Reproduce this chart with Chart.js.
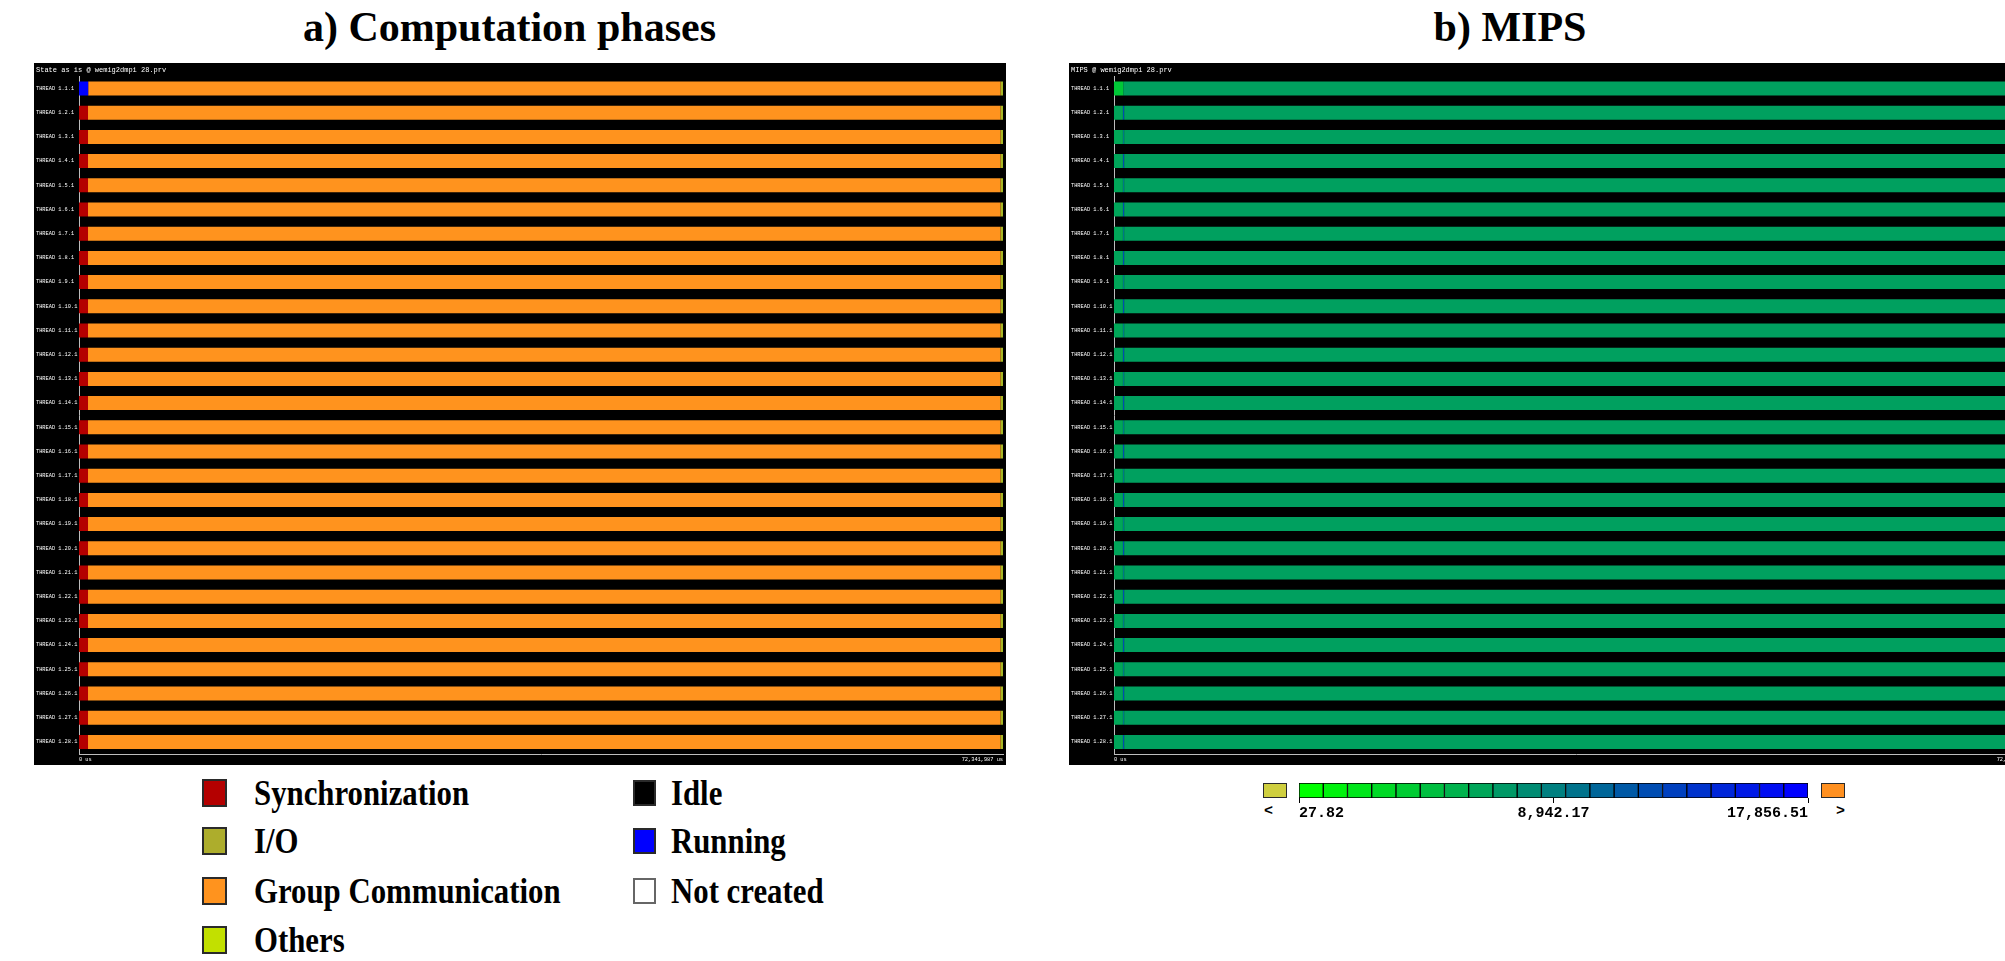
<!DOCTYPE html>
<html>
<head>
<meta charset="utf-8">
<script src="https://cdn.jsdelivr.net/npm/chart.js@4.4.1/dist/chart.umd.min.js"></script>
<style>
  html, body { margin: 0; padding: 0; width: 2005px; height: 961px; overflow: hidden; background: #fff; }
  .title { position: absolute; font: bold 42px "Liberation Serif", serif; line-height: 42px; text-align: center; color: #000; }
  .panel { position: absolute; top: 63px; width: 972px; height: 702px; background: #000; }
  .sw { position: absolute; box-sizing: border-box; border: 2px solid #2a2a2a; }
  .lt { position: absolute; font: bold 35px "Liberation Serif", serif; line-height: 35px; white-space: nowrap;
        transform: scaleX(0.88); transform-origin: left center; color: #000; }
  .cbt { position: absolute; font: bold 15px "Liberation Mono", monospace; color: #000; }
</style>
</head>
<body>

<div class="title" style="left:0; top:6px; width:1019px;">a) Computation phases</div>
<div class="title" style="left:1010px; top:6px; width:1000px;">b) MIPS</div>

<div class="panel" style="left:34px;"><canvas id="states" width="972" height="702"></canvas></div>
<div class="panel" style="left:1069px;"><canvas id="mips" width="972" height="702"></canvas></div>

<div id="legend"></div>

<div class="sw" style="left:1263px; top:783px; width:24px; height:15px; background:#cfcf3f; border-width:1px;"></div>
<div class="cbt" style="left:1264px; top:803px;">&lt;</div>
<div style="position:absolute; left:1290px; top:775px; width:530px; height:50px;"><canvas id="scale" width="530" height="50"></canvas></div>
<div class="sw" style="left:1821px; top:783px; width:24px; height:15px; background:#ff9020; border-width:1px;"></div>
<div class="cbt" style="left:1836px; top:803px;">&gt;</div>

<script>
// threads of the trace
const threads = [
  "THREAD 1.1.1", "THREAD 1.2.1", "THREAD 1.3.1", "THREAD 1.4.1", "THREAD 1.5.1", "THREAD 1.6.1", "THREAD 1.7.1",
  "THREAD 1.8.1", "THREAD 1.9.1", "THREAD 1.10.1", "THREAD 1.11.1", "THREAD 1.12.1", "THREAD 1.13.1", "THREAD 1.14.1",
  "THREAD 1.15.1", "THREAD 1.16.1", "THREAD 1.17.1", "THREAD 1.18.1", "THREAD 1.19.1", "THREAD 1.20.1", "THREAD 1.21.1",
  "THREAD 1.22.1", "THREAD 1.23.1", "THREAD 1.24.1", "THREAD 1.25.1", "THREAD 1.26.1", "THREAD 1.27.1", "THREAD 1.28.1"
];
const totalUs = 72341987;

// a) time spent in each state, microseconds
const runningUs = [720000, 0, 0, 0, 0, 0, 0, 0, 0, 0, 0, 0, 0, 0, 0, 0, 0, 0, 0, 0, 0, 0, 0, 0, 0, 0, 0, 0];
const syncUs = [0, 705000, 705000, 705000, 705000, 705000, 705000, 705000, 705000, 705000, 705000, 705000, 705000, 705000,
  705000, 705000, 705000, 705000, 705000, 705000, 705000, 705000, 705000, 705000, 705000, 705000, 705000, 705000];
const groupCommUs = [71430000, 71445000, 71445000, 71445000, 71445000, 71445000, 71445000, 71445000, 71445000, 71445000,
  71445000, 71445000, 71445000, 71445000, 71445000, 71445000, 71445000, 71445000, 71445000, 71445000, 71445000, 71445000,
  71445000, 71445000, 71445000, 71445000, 71445000, 71445000];
const othersUs = [191987, 191987, 191987, 191987, 191987, 191987, 191987, 191987, 191987, 191987, 191987, 191987, 191987, 191987,
  191987, 191987, 191987, 191987, 191987, 191987, 191987, 191987, 191987, 191987, 191987, 191987, 191987, 191987];

// b) MIPS per phase: duration (us) and value
const firstUs = [720000, 700000, 700000, 700000, 700000, 700000, 700000, 700000, 700000, 700000, 700000, 700000, 700000, 700000,
  700000, 700000, 700000, 700000, 700000, 700000, 700000, 700000, 700000, 700000, 700000, 700000, 700000, 700000];
const firstMips = [3900, 6300, 6100, 6300, 6200, 6300, 6200, 6300, 6200, 6300, 6200, 6300, 6200, 6300,
  6200, 6300, 6200, 6300, 6200, 6300, 6200, 6300, 6200, 6300, 6200, 6300, 6200, 6300];
const burstUs = [0, 90000, 90000, 90000, 90000, 90000, 90000, 90000, 90000, 90000, 90000, 90000, 90000, 90000,
  90000, 90000, 90000, 90000, 90000, 90000, 90000, 90000, 90000, 90000, 90000, 90000, 90000, 90000];
const burstMips = [0, 12500, 9500, 12500, 9500, 12500, 9500, 12500, 9500, 12500, 9500, 12500, 9500, 12500,
  9500, 12500, 9500, 12500, 9500, 12500, 9500, 12500, 9500, 12500, 9500, 12500, 9500, 12500];
const mainUs = [71621987, 71551987, 71551987, 71551987, 71551987, 71551987, 71551987, 71551987, 71551987, 71551987,
  71551987, 71551987, 71551987, 71551987, 71551987, 71551987, 71551987, 71551987, 71551987, 71551987, 71551987,
  71551987, 71551987, 71551987, 71551987, 71551987, 71551987, 71551987];
const mainMips = [6650, 6650, 6650, 6650, 6650, 6650, 6650, 6650, 6650, 6650, 6650, 6650, 6650, 6650,
  6650, 6650, 6650, 6650, 6650, 6650, 6650, 6650, 6650, 6650, 6650, 6650, 6650, 6650];

// colour scale of the MIPS view
const mipsMin = 27.82;
const mipsMax = 17856.51;
const mipsTicks = [27.82, 8942.17, 17856.51];
const mipsCells = 21;

// state legend
const legendItems = [
  { name: "Synchronization", color: "#b40000", col: 0, row: 0 },
  { name: "I/O", color: "#adad2c", col: 0, row: 1 },
  { name: "Group Communication", color: "#ff931e", col: 0, row: 2 },
  { name: "Others", color: "#c2e000", col: 0, row: 3 },
  { name: "Idle", color: "#000000", col: 1, row: 0 },
  { name: "Running", color: "#0000ff", col: 1, row: 1 },
  { name: "Not created", color: "#ffffff", col: 1, row: 2 }
];

document.addEventListener("DOMContentLoaded", drawAll);

function mipsColor(v) {
  let t = (v - mipsMin) / (mipsMax - mipsMin);
  t = Math.max(0, Math.min(1, t));
  return `rgb(0, ${Math.round(255 * (1 - t))}, ${Math.round(255 * t)})`;
}

function timelineOptions(header) {
  const tinyFont = { family: "Liberation Mono", size: 5.3 };
  return {
    indexAxis: "y",
    responsive: false,
    animation: false,
    layout: { padding: { left: 2, right: 3, top: 0, bottom: 0 } },
    plugins: {
      legend: { display: false },
      tooltip: { enabled: false },
      title: {
        display: true,
        text: header,
        align: "start",
        color: "#ffffff",
        font: { family: "Liberation Mono", size: 7, weight: "normal" },
        padding: { top: 3, bottom: 2 }
      }
    },
    scales: {
      x: {
        stacked: true,
        min: 0,
        max: totalUs,
        afterBuildTicks: s => { s.ticks = [{ value: 0 }, { value: totalUs }]; },
        afterFit: s => { s.height = 11; },
        ticks: {
          color: "#ffffff",
          font: tinyFont,
          align: "inner",
          padding: 2,
          maxRotation: 0,
          callback: v => v.toLocaleString("en-US") + " us"
        },
        grid: { display: false, drawTicks: false },
        border: { color: "#bdbdbd", width: 1 }
      },
      y: {
        stacked: true,
        afterFit: s => { s.width = 43; },
        ticks: { color: "#ffffff", font: tinyFont, padding: 3, autoSkip: false, crossAlign: "far" },
        grid: { display: false, drawTicks: false },
        border: { color: "#bdbdbd", width: 1 }
      }
    }
  };
}

function barSet(label, data, color) {
  return {
    label,
    data,
    backgroundColor: color,
    borderWidth: 0,
    barPercentage: 0.58,
    categoryPercentage: 1
  };
}

function drawAll() {

  // a) Computation phases
  new Chart(document.getElementById("states"), {
    type: "bar",
    data: {
      labels: threads,
      datasets: [
        barSet("Running", runningUs, "#0000ff"),
        barSet("Synchronization", syncUs, "#b40000"),
        barSet("Group Communication", groupCommUs, "#ff931e"),
        barSet("Others", othersUs, "#a9b826")
      ]
    },
    options: timelineOptions("State as is @ wemig2dmpi 28.prv")
  });

  // b) MIPS
  new Chart(document.getElementById("mips"), {
    type: "bar",
    data: {
      labels: threads,
      datasets: [
        barSet("first", firstUs, firstMips.map(mipsColor)),
        barSet("burst", burstUs, burstMips.map(mipsColor)),
        barSet("main", mainUs, mainMips.map(mipsColor))
      ]
    },
    options: timelineOptions("MIPS @ wemig2dmpi 28.prv")
  });

  // colour scale below the MIPS view
  const step = (mipsMax - mipsMin) / mipsCells;
  const cells = [];
  for (let i = 0; i < mipsCells; i++) {
    cells.push({
      data: [[mipsMin + i * step, mipsMin + (i + 1) * step]],
      backgroundColor: mipsColor(mipsMin + (mipsMax - mipsMin) * i / (mipsCells - 1)),
      borderColor: "#000000",
      borderWidth: 1,
      borderSkipped: false,
      grouped: false,
      barPercentage: 1,
      categoryPercentage: 1
    });
  }

  new Chart(document.getElementById("scale"), {
    type: "bar",
    data: { labels: [""], datasets: cells },
    options: {
      indexAxis: "y",
      responsive: false,
      animation: false,
      layout: { padding: { left: 9, right: 12, top: 8, bottom: 0 } },
      plugins: { legend: { display: false }, tooltip: { enabled: false } },
      scales: {
        x: {
          min: mipsMin,
          max: mipsMax,
          afterBuildTicks: s => { s.ticks = mipsTicks.map(v => ({ value: v })); },
          afterFit: s => { s.height = 27; },
          ticks: {
            color: "#000000",
            font: { family: "Liberation Mono", size: 15, weight: "bold" },
            align: "inner",
            padding: 1,
            maxRotation: 0,
            callback: v => v.toLocaleString("en-US", { minimumFractionDigits: 2, maximumFractionDigits: 2 })
          },
          grid: { drawOnChartArea: false, color: "#000000", tickLength: 5 },
          border: { display: false }
        },
        y: { display: false }
      }
    }
  });

  // state legend
  const legend = document.getElementById("legend");
  const colX = [[202, 254], [633, 671]];
  const rowY = [793, 841, 891, 940];
  legendItems.forEach(item => {
    const box = document.createElement("div");
    box.className = "sw";
    const w = item.col === 0 ? 25 : 23;
    const h = item.col === 0 ? 28 : 26;
    box.style.left = colX[item.col][0] + "px";
    box.style.top = (rowY[item.row] - h / 2) + "px";
    box.style.width = w + "px";
    box.style.height = h + "px";
    box.style.background = item.color;
    if (item.name === "Not created") box.style.borderColor = "#666";
    legend.appendChild(box);

    const text = document.createElement("div");
    text.className = "lt";
    text.textContent = item.name;
    text.style.left = colX[item.col][1] + "px";
    text.style.top = (rowY[item.row] - 17) + "px";
    legend.appendChild(text);
  });
}
</script>
</body>
</html>
